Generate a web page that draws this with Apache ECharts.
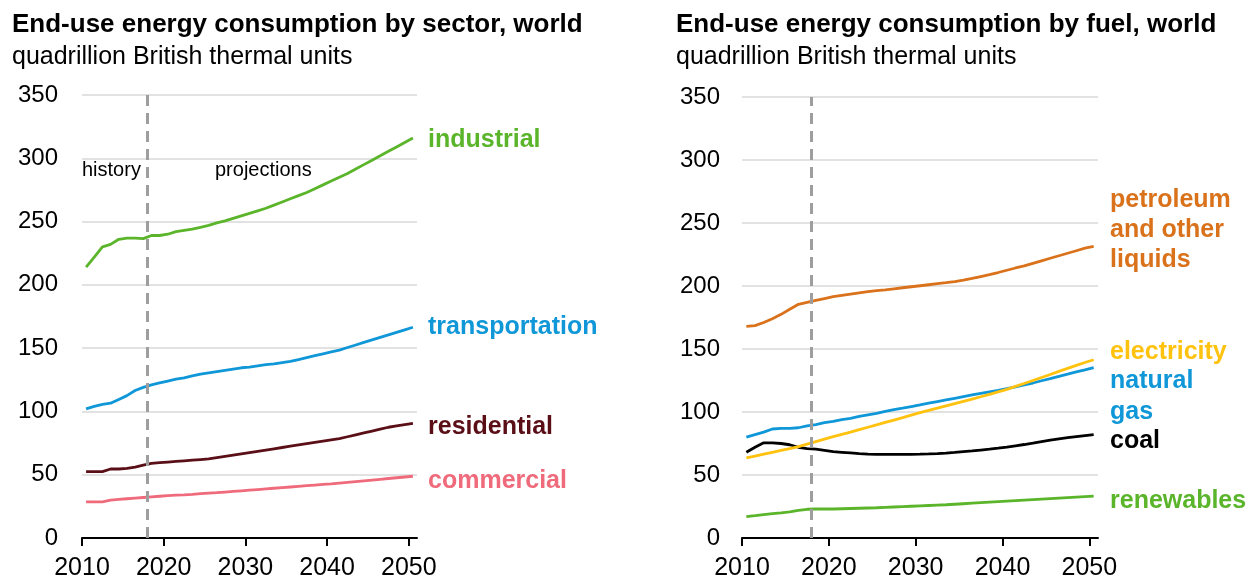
<!DOCTYPE html>
<html lang="en">
<head>
    <meta charset="UTF-8">
    <title>End-use energy consumption, world</title>
    <style>
        html, body { margin: 0; padding: 0; background: #fff; }
        #main { width: 1252px; height: 581px; }
    </style>
</head>
<body>
<div id="main"></div>

<script src="https://cdn.jsdelivr.net/npm/echarts@6/dist/echarts.min.js"></script>
<script>
    // years 2010..2050
    var years = [];
    for (var y = 2010; y <= 2050; y++) years.push(y);

    // sector chart (quadrillion Btu)
    var industrial = [214, 222, 230, 232, 236, 237, 237, 236.5, 239, 239, 240, 242, 243, 244, 245.5, 247, 249, 250.5, 252.5, 254.5,
        256.5, 258.5, 260.5, 263, 265.5, 268, 270.5, 273, 276, 279, 282, 285, 288, 291.5, 295, 298.5, 302, 305.5, 309, 312.5, 316];
    var transportation = [102, 104, 105.5, 106.5, 109.5, 112.5, 116.5, 119, 121, 122.5, 124, 125.5, 126.5, 128, 129.5, 130.5, 131.5, 132.5, 133.5, 134.5,
        135, 136, 137, 137.5, 138.5, 139.5, 141, 142.5, 144, 145.5, 147, 148.5, 150.5, 152.5, 154.5, 156.5, 158.5, 160.5, 162.5, 164.5, 166.5];
    var residential = [52.5, 52.5, 52.5, 54.5, 54.5, 55, 56, 57.5, 59, 59.5, 60, 60.5, 61, 61.5, 62, 62.5, 63.5, 64.5, 65.5, 66.5,
        67.5, 68.5, 69.5, 70.5, 71.5, 72.5, 73.5, 74.5, 75.5, 76.5, 77.5, 78.5, 80, 81.5, 83, 84.5, 86, 87.5, 88.5, 89.5, 90.5];
    var commercial = [28.5, 28.5, 28.5, 30, 30.5, 31, 31.5, 32, 32.5, 33, 33.5, 33.8, 34.1, 34.5, 35, 35.4, 35.8, 36.3, 36.8, 37.3,
        37.8, 38.3, 38.8, 39.3, 39.8, 40.3, 40.8, 41.3, 41.8, 42.3, 42.8, 43.4, 44, 44.6, 45.2, 45.8, 46.4, 47, 47.6, 48.2, 48.8];

    // fuel chart (quadrillion Btu)
    var petroleum = [168, 168.5, 171, 174, 177.5, 181.5, 185.5, 187, 188.5, 190, 191.5, 192.5, 193.5, 194.5, 195.5, 196.3, 197, 197.8, 198.6, 199.4,
        200.2, 201, 201.8, 202.6, 203.5, 204.6, 206, 207.5, 209, 210.7, 212.5, 214.3, 216, 218, 220, 222, 224, 226, 228, 230, 231.5];
    var electricity = [63.5, 65, 66.5, 68, 69.5, 71, 72.5, 74.5, 76.5, 78.5, 80.5, 82.3, 84.1, 86, 87.9, 89.8, 91.7, 93.6, 95.5, 97.5,
        99.5, 101.3, 103.1, 104.9, 106.7, 108.5, 110.3, 112.1, 114, 116, 118, 120.3, 122.6, 125, 127.4, 129.8, 132.2, 134.6, 137, 139.3, 141.5];
    var naturalGas = [80, 82, 84, 86.5, 87, 87, 87.5, 89, 90, 91.5, 92.5, 94, 95, 96.5, 97.8, 99, 100.5, 101.8, 103, 104.3,
        105.6, 107, 108.3, 109.6, 110.9, 112.2, 113.5, 114.8, 116, 117.2, 118.5, 120, 121.5, 123, 124.8, 126.5, 128.3, 130, 131.8, 133.5, 135.3];
    var coal = [68, 72, 75.5, 75.5, 75, 74, 72, 71, 70.5, 69.5, 68.5, 68, 67.5, 67, 66.6, 66.4, 66.3, 66.3, 66.3, 66.4,
        66.5, 66.7, 67, 67.4, 67.9, 68.5, 69.1, 69.8, 70.5, 71.3, 72.2, 73.2, 74.2, 75.3, 76.5, 77.6, 78.6, 79.6, 80.5, 81.3, 82];
    var renewables = [17, 17.7, 18.5, 19.3, 20, 20.8, 22, 22.8, 23, 23, 23, 23.2, 23.4, 23.6, 23.8, 24, 24.3, 24.6, 24.9, 25.2,
        25.5, 25.8, 26.1, 26.4, 26.8, 27.2, 27.6, 28, 28.4, 28.8, 29.2, 29.6, 30, 30.4, 30.8, 31.2, 31.6, 32, 32.4, 32.8, 33.2];

    var xTicks = [2010, 2020, 2030, 2040, 2050];
    var historyEnd = 2018;

    var FONT = 'Liberation Sans, Arial, sans-serif';
    var green = '#5bb52b', blue = '#0f97d8', maroon = '#5a0f17', pink = '#ef6a7b',
        orange = '#d9721b', yellow = '#ffc20e', black = '#000000';

    // values are annual, plotted at mid-year
    function pts(vals) {
        return vals.map(function (v, i) { return [years[i] + 0.5, v]; });
    }

    function xAxisOf(idx) {
        return {
            type: 'value', gridIndex: idx, min: 2010, max: 2051,
            axisLine: { show: true, lineStyle: { color: '#000', width: 2 } },
            axisTick: { show: true, length: 8, customValues: xTicks, lineStyle: { color: '#000', width: 2 } },
            axisLabel: {
                customValues: xTicks, fontSize: 25, color: '#000', fontFamily: FONT, margin: 18,
                formatter: function (v) { return String(v); }
            },
            splitLine: { show: false }
        };
    }

    function yAxisOf(idx, margin) {
        return {
            type: 'value', gridIndex: idx, min: 0, max: 350, interval: 50,
            axisLine: { show: false }, axisTick: { show: false },
            axisLabel: { fontSize: 24, color: '#000', fontFamily: FONT, margin: margin },
            splitLine: { lineStyle: { color: '#d9d9d9', width: 1.5 } }
        };
    }

    function line(name, vals, color, idx, mark) {
        var s = {
            name: name, type: 'line', xAxisIndex: idx, yAxisIndex: idx,
            data: pts(vals), showSymbol: false, silent: true,
            lineStyle: { color: color, width: 2.8 }, z: 3
        };
        if (mark) {
            s.markLine = {
                silent: true, symbol: 'none', label: { show: false },
                lineStyle: { color: '#9e9e9e', width: 3, type: [11, 7] },
                data: [{ xAxis: historyEnd }]
            };
        }
        return s;
    }

    function txt(x, y, text, color, size, weight) {
        return {
            type: 'text', x: x, y: y,
            style: {
                text: text, fill: color, fontSize: size, fontWeight: weight || 'normal',
                fontFamily: FONT, verticalAlign: 'middle', align: 'left'
            }
        };
    }

    var chart = echarts.init(document.getElementById('main'));
    var option = {
        animation: false,
        grid: [
            { left: 82, right: 835, top: 95, bottom: 41 },
            { left: 742, right: 154, top: 97, bottom: 41 }
        ],
        xAxis: [xAxisOf(0), xAxisOf(1)],
        yAxis: [yAxisOf(0, 24), yAxisOf(1, 22)],
        series: [
            line('industrial', industrial, green, 0, true),
            line('transportation', transportation, blue, 0),
            line('residential', residential, maroon, 0),
            line('commercial', commercial, pink, 0),
            line('petroleum and other liquids', petroleum, orange, 1, true),
            line('natural gas', naturalGas, blue, 1),
            line('coal', coal, black, 1),
            line('electricity', electricity, yellow, 1),
            line('renewables', renewables, green, 1)
        ],
        graphic: [
            txt(12, 25, 'End-use energy consumption by sector, world', '#000', 26, 'bold'),
            txt(12, 57, 'quadrillion British thermal units', '#000', 25),
            txt(676, 25, 'End-use energy consumption by fuel, world', '#000', 26, 'bold'),
            txt(676, 57, 'quadrillion British thermal units', '#000', 25),
            txt(82, 170, 'history', '#000', 20),
            txt(215, 170, 'projections', '#000', 20),
            txt(428, 140, 'industrial', green, 25, 'bold'),
            txt(428, 327, 'transportation', blue, 25, 'bold'),
            txt(428, 427, 'residential', maroon, 25, 'bold'),
            txt(428, 481, 'commercial', pink, 25, 'bold'),
            txt(1110, 200, 'petroleum', orange, 25, 'bold'),
            txt(1110, 230, 'and other', orange, 25, 'bold'),
            txt(1110, 260, 'liquids', orange, 25, 'bold'),
            txt(1110, 352, 'electricity', yellow, 25, 'bold'),
            txt(1110, 381, 'natural', blue, 25, 'bold'),
            txt(1110, 412, 'gas', blue, 25, 'bold'),
            txt(1110, 441, 'coal', black, 25, 'bold'),
            txt(1110, 501, 'renewables', green, 25, 'bold')
        ]
    };
    chart.setOption(option);
</script>
</body>
</html>
